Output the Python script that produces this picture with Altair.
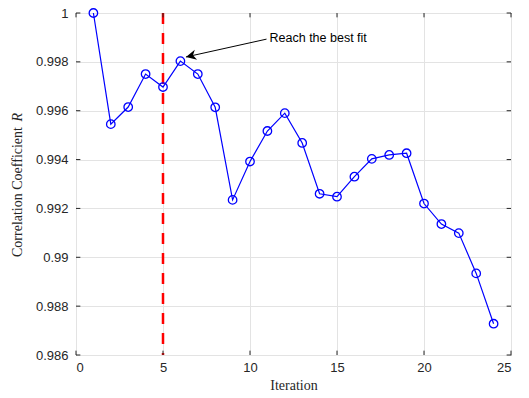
import altair as alt
import pandas as pd

# ---- data ----
iterations = list(range(1, 25))
r_values = [1.0, 0.99545, 0.99615, 0.99750, 0.99697, 0.99803, 0.99750, 0.99614,
            0.99235, 0.99392, 0.99517, 0.99590, 0.99468, 0.99260, 0.99248, 0.99330,
            0.99403, 0.99419, 0.99426, 0.99220, 0.99136, 0.99099, 0.98934, 0.98728]
x_ticks = [0, 5, 10, 15, 20, 25]
y_ticks = [0.986, 0.988, 0.99, 0.992, 0.994, 0.996, 0.998, 1.0]
best_iteration = 5
annotation_text = "Reach the best fit"
# annotation anchor (data coords): text start and arrow tip
ann_x, ann_y = 10.95, 0.99893
tip_x, tip_y = 6.32, 0.99820

X_DOM = [0, 25]
Y_DOM = [0.986, 1.0]
xs = alt.Scale(domain=X_DOM, nice=False, zero=False)
ys = alt.Scale(domain=Y_DOM, nice=False, zero=False)

serif = "Liberation Serif"
sans = "Liberation Sans"
axcol = "#262626"

xax = alt.Axis(values=x_ticks, format="d", title="Iteration",
               titleFont=serif, titleFontSize=14, titleFontWeight="normal",
               titleColor=axcol, titlePadding=4)
yax = alt.Axis(values=y_ticks, format=".3~f", title=None)


def X(field=None, **kw):
    if field is None:
        return alt.X(scale=xs, axis=xax, **kw)
    return alt.X(field, scale=xs, axis=xax, **kw)


def Y(field=None, **kw):
    if field is None:
        return alt.Y(scale=ys, axis=yax, **kw)
    return alt.Y(field, scale=ys, axis=yax, **kw)


df = pd.DataFrame({"it": iterations, "r": r_values})

line = alt.Chart(df).mark_line(color="#0000ff", strokeWidth=1.2).encode(
    x=X("it:Q"), y=Y("r:Q"))
pts = alt.Chart(df).mark_point(shape="circle", filled=False, color="#0000ff",
                               size=72, strokeWidth=1.3, opacity=1).encode(
    x=X("it:Q"), y=Y("r:Q"))

red = alt.Chart(pd.DataFrame({"b": [best_iteration]})).mark_rule(
    color="#ff0000", strokeWidth=2.5, strokeDash=[11, 9]).encode(x=X("b:Q"))

# inward ticks
xt = pd.DataFrame({"t": x_ticks})
yt = pd.DataFrame({"t": y_ticks})
tlx = 0.25
tly = 0.000178
tick_b = alt.Chart(xt).mark_rule(color=axcol, strokeWidth=1).encode(
    x=X("t:Q"), y=Y(datum=Y_DOM[0]), y2=alt.Y2(datum=Y_DOM[0] + tly))
tick_t = alt.Chart(xt).mark_rule(color=axcol, strokeWidth=1).encode(
    x=X("t:Q"), y=Y(datum=Y_DOM[1]), y2=alt.Y2(datum=Y_DOM[1] - tly))
tick_l = alt.Chart(yt).mark_rule(color=axcol, strokeWidth=1).encode(
    y=Y("t:Q"), x=X(datum=X_DOM[0]), x2=alt.X2(datum=X_DOM[0] + tlx))
tick_r = alt.Chart(yt).mark_rule(color=axcol, strokeWidth=1).encode(
    y=Y("t:Q"), x=X(datum=X_DOM[1]), x2=alt.X2(datum=X_DOM[1] - tlx))

# annotation
ann = pd.DataFrame({"x": [ann_x], "y": [ann_y], "x2": [tip_x], "y2": [tip_y],
                    "label": [annotation_text]})
arrow_line = alt.Chart(ann).mark_rule(color="black", strokeWidth=1).encode(
    x=X("x:Q"), y=Y("y:Q"), x2="x2:Q", y2="y2:Q")
arrow_head = alt.Chart(ann).mark_point(
    shape="M0,0 L-1,-0.5 L-0.7,0 L-1,0.5 Z", filled=True, color="black",
    size=420, angle=167, opacity=1).encode(x=X("x2:Q"), y=Y("y2:Q"))
ann_text = alt.Chart(ann).mark_text(
    align="left", baseline="middle", font=sans, fontSize=12.5, color="black", dx=3,
    dy=-1).encode(x=X("x:Q"), y=Y("y:Q"), text="label:N")

# y-axis title with italic R
yt1 = alt.Chart(pd.DataFrame({"s": ["Correlation Coefficient"]})).mark_text(
    angle=270, align="left", baseline="middle", font=serif, fontSize=14,
    color=axcol).encode(x=alt.value(-58), y=alt.value(244), text="s:N")
yt2 = alt.Chart(pd.DataFrame({"s": ["R"]})).mark_text(
    angle=270, align="right", baseline="middle", font=serif, fontSize=14,
    fontStyle="italic", color=axcol).encode(x=alt.value(-58), y=alt.value(100),
                                             text="s:N")

chart = alt.layer(
    line, red, tick_b, tick_t, tick_l, tick_r, pts,
    arrow_line, arrow_head, ann_text, yt1, yt2
).properties(
    width=435, height=342,
    autosize=alt.AutoSizeParams(type="none"),
    padding={"left": 76, "top": 13, "right": 18, "bottom": 43},
).configure_view(
    stroke=axcol, strokeWidth=1
).configure_axis(
    labelFont=sans, labelFontSize=13, labelColor=axcol,
    domain=False, ticks=False, tickSize=0,
    grid=True, gridColor="#e3e3e3", gridWidth=1,
).configure_axisX(labelPadding=6).configure_axisY(labelPadding=8)

chart.save("out.html", embed_options={"renderer": "svg", "actions": False})
